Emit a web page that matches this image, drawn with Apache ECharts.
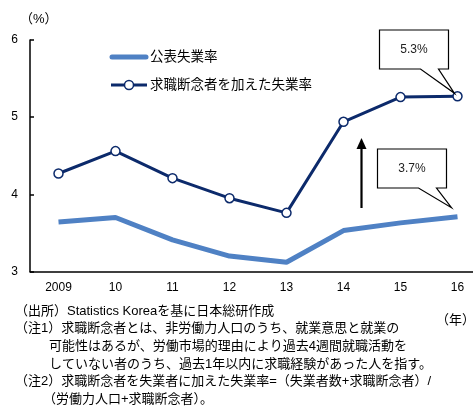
<!DOCTYPE html>
<html>
<head>
<meta charset="utf-8">
<script src="https://cdn.jsdelivr.net/npm/echarts@6/dist/echarts.min.js"></script>
<style>
  html, body { margin: 0; padding: 0; background: #fff; overflow: hidden; }
  #main { width: 486px; height: 407px; }
</style>
</head>
<body>
<div id="main"></div>
<script>
// 年（カテゴリ）
var years = ['2009', '10', '11', '12', '13', '14', '15', '16'];
// 公表失業率
var officialRate = [3.64, 3.70, 3.41, 3.20, 3.12, 3.53, 3.63, 3.71];
// 求職断念者を加えた失業率
var widerRate = [4.27, 4.56, 4.21, 3.95, 3.76, 4.94, 5.26, 5.27];
var seriesNames = ['公表失業率', '求職断念者を加えた失業率'];
var calloutTexts = ['5.3%', '3.7%'];
var notes = [
  '（出所）Statistics Koreaを基に日本総研作成',
  '（注1）求職断念者とは、非労働力人口のうち、就業意思と就業の',
  '可能性はあるが、労働市場的理由により過去4週間就職活動を',
  'していない者のうち、過去1年以内に求職経験があった人を指す。',
  '（注2）求職断念者を失業者に加えた失業率=（失業者数+求職断念者）/',
  '（労働力人口+求職断念者）。'
];

var FONT = '"Liberation Sans", "Noto Sans CJK JP", sans-serif';
var LIGHT = '#4f81c4';
var DARK = '#0c2a6b';
var chart = echarts.init(document.getElementById('main'));

var option = {
  animation: false,
  textStyle: { fontFamily: FONT },
  grid: { left: 30, top: 40, right: 0, bottom: 135.5 },
  xAxis: {
    type: 'category',
    data: years,
    boundaryGap: true,
    axisLine: { lineStyle: { color: '#000', width: 1.5 } },
    axisTick: { inside: false, length: 4, lineStyle: { color: '#000', width: 1.5 } },
    axisLabel: { fontSize: 12, color: '#000', margin: 10 }
  },
  yAxis: {
    type: 'value',
    min: 3,
    max: 6,
    interval: 1,
    name: '（%）',
    nameLocation: 'end',
    nameGap: 14,
    nameTextStyle: { fontSize: 13, color: '#000', align: 'left', padding: [0, 0, 0, -10] },
    splitLine: { show: false },
    axisLine: { show: true, lineStyle: { color: '#000', width: 1.5 } },
    axisTick: { show: true, inside: true, length: 4, lineStyle: { color: '#000', width: 1.5 } },
    axisLabel: { fontSize: 12, color: '#000', margin: 12 }
  },
  series: [
    {
      name: seriesNames[0],
      type: 'line',
      data: officialRate,
      symbol: 'none',
      lineStyle: { color: LIGHT, width: 5 },
      itemStyle: { color: LIGHT },
      z: 2
    },
    {
      name: seriesNames[1],
      type: 'line',
      data: widerRate,
      symbol: 'circle',
      symbolSize: 9,
      showAllSymbol: true,
      lineStyle: { color: DARK, width: 3 },
      itemStyle: { color: '#fff', borderColor: DARK, borderWidth: 1.5 },
      z: 3
    }
  ]
};
chart.setOption(option);

var p16 = chart.convertToPixel({ seriesIndex: 1 }, [7, widerRate[7]]);
var q16 = chart.convertToPixel({ seriesIndex: 0 }, [7, officialRate[7]]);
var p14 = chart.convertToPixel({ seriesIndex: 1 }, [5, widerRate[5]]);

var graphics = [];

// 凡例
graphics.push({
  type: 'line', shape: { x1: 112, y1: 57, x2: 146, y2: 57 },
  style: { stroke: LIGHT, lineWidth: 5, lineCap: 'round' }
});
graphics.push({
  type: 'text', x: 150, y: 57,
  style: { text: seriesNames[0], fontSize: 13.5, fill: '#000', fontFamily: FONT, verticalAlign: 'middle' }
});
graphics.push({
  type: 'line', shape: { x1: 111, y1: 85, x2: 147, y2: 85 },
  style: { stroke: DARK, lineWidth: 3 }
});
graphics.push({
  type: 'circle', shape: { cx: 129, cy: 85, r: 4.5 },
  style: { fill: '#fff', stroke: DARK, lineWidth: 1.5 }
});
graphics.push({
  type: 'text', x: 150, y: 85,
  style: { text: seriesNames[1], fontSize: 13.5, fill: '#000', fontFamily: FONT, verticalAlign: 'middle' }
});

// 吹き出し
function box(tip, bx, by, text) {
  var w = 69, h = 39;
  var t1 = bx + 41, t2 = bx + 59;
  graphics.push({
    type: 'polygon',
    z: 10,
    shape: { points: [[bx, by], [bx + w, by], [bx + w, by + h], [t2, by + h], tip, [t1, by + h], [bx, by + h]] },
    style: { fill: '#fff', stroke: '#000', lineWidth: 1.2 }
  });
  graphics.push({
    type: 'text',
    z: 11,
    x: bx + w / 2,
    y: by + h / 2,
    style: { text: text, fontSize: 12, fill: '#222', fontFamily: FONT, align: 'center', verticalAlign: 'middle' }
  });
}
box([p16[0] - 3, p16[1] - 3], p16[0] - 78, 30, calloutTexts[0]);
box([q16[0] - 6, q16[1] - 9], q16[0] - 80, 149, calloutTexts[1]);

// 上向き矢印
var ax = p14[0] + 18;
graphics.push({
  type: 'line', z: 10,
  shape: { x1: ax, y1: 208, x2: ax, y2: 146 },
  style: { stroke: '#000', lineWidth: 2.2 }
});
graphics.push({
  type: 'polygon', z: 10,
  shape: { points: [[ax - 5, 149], [ax + 5, 149], [ax, 138]] },
  style: { fill: '#000' }
});

// 注記
var noteX = [15, 15, 49, 49, 15, 43];
for (var i = 0; i < notes.length; i++) {
  graphics.push({
    type: 'text',
    x: noteX[i],
    y: 311 + i * 17.7,
    style: { text: notes[i], fontSize: 13, fill: '#000', fontFamily: FONT, verticalAlign: 'middle' }
  });
}
graphics.push({
  type: 'text', x: 436, y: 320,
  style: { text: '（年）', fontSize: 13, fill: '#000', fontFamily: FONT, verticalAlign: 'middle' }
});

chart.setOption({ graphic: graphics });
</script>
</body>
</html>
